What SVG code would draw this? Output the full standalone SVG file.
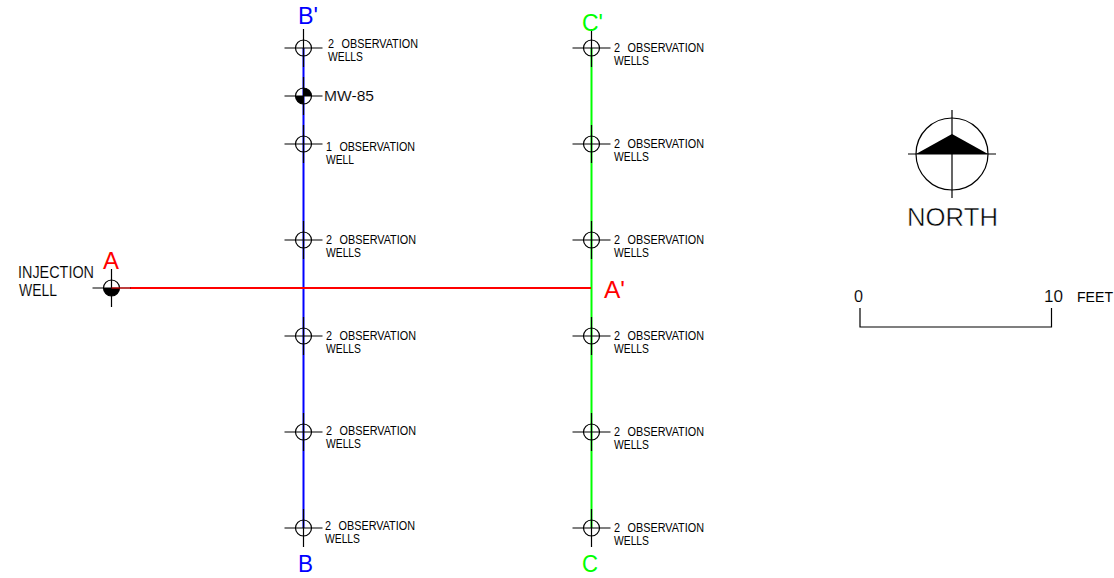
<svg xmlns="http://www.w3.org/2000/svg" width="1114" height="578" viewBox="0 0 1114 578">
<style>
text{font-family:"Liberation Sans",Arial,sans-serif;fill:#000}
.s{font-size:12px;word-spacing:5px}
.m{font-size:16px;stroke:#fff;stroke-width:.12}
.l{font-size:16px;stroke:#fff;stroke-width:.12}
.f{font-size:14px}
.n{font-size:26px;stroke:#fff;stroke-width:.5}
.mw{font-size:14px;stroke:#fff;stroke-width:.1}
.big{font-size:23px}
.red{fill:#f00}.blue{fill:#00f}.green{fill:#0f0}
.k{fill:none;stroke:#000;stroke-width:1.2}
.blk{fill:#000;stroke:none}
</style>
<defs>
<g id="well" class="k">
<circle r="8"/>
<path d="M-19 0H19M0 -19V19"/>
</g>
</defs>
<rect width="1114" height="578" fill="#fff"/>
<g id="connectors" fill="none">
<path d="M303.5 48V528" stroke="#00f" stroke-width="2"/>
<path d="M591.5 48V528" stroke="#0f0" stroke-width="2"/>
<path d="M130 288H591" stroke="#f00" stroke-width="2"/>
</g>
<g id="b-48"><use href="#well" x="303.5" y="48"/><text class="s" x="328" y="48" textLength="90" lengthAdjust="spacingAndGlyphs">2 OBSERVATION</text><text class="s" x="328" y="61" textLength="35" lengthAdjust="spacingAndGlyphs">WELLS</text></g>
<g id="mw-85"><use href="#well" x="303.5" y="96"/><path class="blk" d="M303.5 96V88A8 8 0 0 1 311.5 96ZM303.5 96V104A8 8 0 0 1 295.5 96Z"/><text class="mw" x="324" y="101" textLength="50" lengthAdjust="spacingAndGlyphs">MW-85</text></g>
<g id="b-144"><use href="#well" x="303.5" y="144"/><text class="s" x="326" y="151" textLength="89" lengthAdjust="spacingAndGlyphs">1 OBSERVATION</text><text class="s" x="326" y="164" textLength="28" lengthAdjust="spacingAndGlyphs">WELL</text></g>
<g id="b-240"><use href="#well" x="303.5" y="240"/><text class="s" x="326" y="244" textLength="90" lengthAdjust="spacingAndGlyphs">2 OBSERVATION</text><text class="s" x="326" y="257" textLength="35" lengthAdjust="spacingAndGlyphs">WELLS</text></g>
<g id="b-336"><use href="#well" x="303.5" y="336"/><text class="s" x="326" y="340" textLength="90" lengthAdjust="spacingAndGlyphs">2 OBSERVATION</text><text class="s" x="326" y="353" textLength="35" lengthAdjust="spacingAndGlyphs">WELLS</text></g>
<g id="b-432"><use href="#well" x="303.5" y="432"/><text class="s" x="326" y="435" textLength="90" lengthAdjust="spacingAndGlyphs">2 OBSERVATION</text><text class="s" x="326" y="448" textLength="35" lengthAdjust="spacingAndGlyphs">WELLS</text></g>
<g id="b-528"><use href="#well" x="303.5" y="528"/><text class="s" x="325" y="530" textLength="90" lengthAdjust="spacingAndGlyphs">2 OBSERVATION</text><text class="s" x="325" y="543" textLength="35" lengthAdjust="spacingAndGlyphs">WELLS</text></g>
<g id="c-48"><use href="#well" x="591.5" y="48"/><text class="s" x="614" y="52" textLength="90" lengthAdjust="spacingAndGlyphs">2 OBSERVATION</text><text class="s" x="614" y="65" textLength="35" lengthAdjust="spacingAndGlyphs">WELLS</text></g>
<g id="c-144"><use href="#well" x="591.5" y="144"/><text class="s" x="614" y="148" textLength="90" lengthAdjust="spacingAndGlyphs">2 OBSERVATION</text><text class="s" x="614" y="161" textLength="35" lengthAdjust="spacingAndGlyphs">WELLS</text></g>
<g id="c-240"><use href="#well" x="591.5" y="240"/><text class="s" x="614" y="244" textLength="90" lengthAdjust="spacingAndGlyphs">2 OBSERVATION</text><text class="s" x="614" y="257" textLength="35" lengthAdjust="spacingAndGlyphs">WELLS</text></g>
<g id="c-336"><use href="#well" x="591.5" y="336"/><text class="s" x="614" y="340" textLength="90" lengthAdjust="spacingAndGlyphs">2 OBSERVATION</text><text class="s" x="614" y="353" textLength="35" lengthAdjust="spacingAndGlyphs">WELLS</text></g>
<g id="c-432"><use href="#well" x="591.5" y="432"/><text class="s" x="614" y="436" textLength="90" lengthAdjust="spacingAndGlyphs">2 OBSERVATION</text><text class="s" x="614" y="449" textLength="35" lengthAdjust="spacingAndGlyphs">WELLS</text></g>
<g id="c-528"><use href="#well" x="591.5" y="528"/><text class="s" x="614" y="532" textLength="90" lengthAdjust="spacingAndGlyphs">2 OBSERVATION</text><text class="s" x="614" y="545" textLength="35" lengthAdjust="spacingAndGlyphs">WELLS</text></g>
<g id="injection-well"><path class="blk" d="M103.5 288A8 8 0 0 0 119.5 288Z"/><use href="#well" x="111.5" y="288"/><path d="M111.5 288H130" stroke="#f00" stroke-width="1"/><text class="m" x="18" y="278" textLength="76" lengthAdjust="spacingAndGlyphs">INJECTION</text><text class="m" x="19" y="295.5" textLength="38" lengthAdjust="spacingAndGlyphs">WELL</text></g>
<g id="labels">
<text class="big red" x="103" y="269" textLength="16" lengthAdjust="spacingAndGlyphs">A</text>
<text class="big red" x="604" y="298" textLength="21" lengthAdjust="spacingAndGlyphs">A'</text>
<text class="big blue" x="298" y="24" textLength="20" lengthAdjust="spacingAndGlyphs">B'</text>
<text class="big blue" x="298" y="572" textLength="15" lengthAdjust="spacingAndGlyphs">B</text>
<text class="big green" x="582" y="31" textLength="21" lengthAdjust="spacingAndGlyphs">C'</text>
<text class="big green" x="582" y="572" textLength="16" lengthAdjust="spacingAndGlyphs">C</text>
</g>
<g id="north">
<circle class="k" cx="952" cy="154" r="36"/>
<path class="k" d="M908 154H996M952 110V198"/>
<path class="blk" d="M916 154L952 134L988 154Z"/>
<text class="n" x="907" y="226" textLength="91" lengthAdjust="spacingAndGlyphs">NORTH</text>
</g>
<g id="scale">
<path class="k" d="M860 308V327H1051.5V308"/>
<text class="l" x="854" y="302" textLength="9" lengthAdjust="spacingAndGlyphs">0</text>
<text class="l" x="1044" y="302" textLength="19" lengthAdjust="spacingAndGlyphs">10</text>
<text class="f" x="1077" y="302" textLength="36" lengthAdjust="spacingAndGlyphs">FEET</text>
</g>
</svg>
